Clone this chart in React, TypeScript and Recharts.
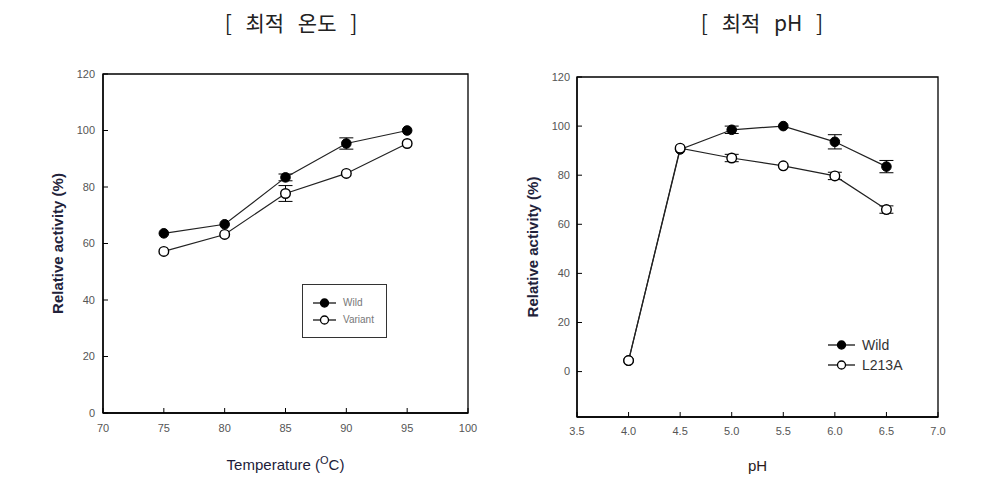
import React from 'react';
import { LineChart, Line, XAxis, YAxis, ReferenceArea, ErrorBar, Legend, Label } from 'recharts';

// ---- Data: optimal temperature ----
const tempCategories = [75, 80, 85, 90, 95];
const wildTemp = [63.6, 66.8, 83.4, 95.4, 100];
const wildTempErr = [0, 0, 1.2, 2.0, 0];
const variantTemp = [57.2, 63.2, 77.7, 84.8, 95.4];
const variantTempErr = [0, 0, 2.8, 0, 0];
const tempTicks = [70, 75, 80, 85, 90, 95, 100];
const activityTicks = [0, 20, 40, 60, 80, 100, 120];
const tempSeriesNames = ['Wild', 'Variant'];

// ---- Data: optimal pH ----
const phCategories = [4.0, 4.5, 5.0, 5.5, 6.0, 6.5];
const wildPh = [4.5, 90.5, 98.5, 100, 93.6, 83.5];
const wildPhErr = [0, 0, 1.5, 0, 2.9, 2.5];
const l213aPh = [4.5, 91, 87, 83.8, 79.7, 66];
const l213aPhErr = [0, 0, 1.5, 0, 1.5, 1.5];
const phTicks = [3.5, 4.0, 4.5, 5.0, 5.5, 6.0, 6.5, 7.0];
const phSeriesNames = ['Wild', 'L213A'];

const tempData = tempCategories.map((t, i) => ({
  t,
  wild: wildTemp[i],
  wildErr: wildTempErr[i],
  variant: variantTemp[i],
  variantErr: variantTempErr[i],
}));

const phData = phCategories.map((p, i) => ({
  p,
  wild: wildPh[i],
  wildErr: wildPhErr[i],
  l213a: l213aPh[i],
  l213aErr: l213aPhErr[i],
}));

const FONT = '"Liberation Sans", Arial, sans-serif';
const tickStyle = { fill: '#555', fontSize: 11, fontFamily: FONT };
const filledDot = { r: 4.8, fill: '#000', stroke: '#000', strokeWidth: 1 };
const openDot = { r: 4.8, fill: '#fff', stroke: '#000', strokeWidth: 1.4 };

const YLabel = (props: any) => {
  const vb = props.viewBox || {};
  const cx = vb.x + props.dx;
  const cy = vb.y + vb.height / 2;
  return (
    <text
      x={cx}
      y={cy}
      transform={`rotate(-90 ${cx} ${cy})`}
      textAnchor="middle"
      dominantBaseline="central"
      fontFamily={FONT}
      fontSize={15}
      fontWeight="bold"
      fill="#22223a"
    >
      Relative activity (%)
    </text>
  );
};

const TempXLabel = (props: any) => {
  const vb = props.viewBox || {};
  const cx = vb.x + vb.width / 2;
  const cy = vb.y + props.dy;
  return (
    <text x={cx} y={cy} textAnchor="middle" fontFamily={FONT} fontSize={15} fill="#1c1c3a">
      Temperature (
      <tspan fontSize={11} dy={-6}>O</tspan>
      <tspan dy={6}>C)</tspan>
    </text>
  );
};

const PhXLabel = (props: any) => {
  const vb = props.viewBox || {};
  const cx = vb.x + vb.width / 2;
  const cy = vb.y + props.dy;
  return (
    <text x={cx} y={cy} textAnchor="middle" fontFamily={FONT} fontSize={15} fill="#2a1a1a">
      pH
    </text>
  );
};

const LegendBody = ({ payload, boxed, order }: any) => {
  const items = ((payload || []) as any[])
    .slice()
    .sort((a, b) => order.indexOf(a.value) - order.indexOf(b.value));
  const fontSize = boxed ? 10 : 14;
  const rowH = boxed ? 17 : 20;
  return (
    <div
      style={{
        border: boxed ? '1.5px solid #333' : 'none',
        padding: boxed ? '9px 8px 9px 9px' : 0,
        width: boxed ? 66 : 'auto',
        background: boxed ? '#fff' : 'transparent',
        fontFamily: FONT,
      }}
    >
      {items.map((it, i) => {
        const dot = it.payload && it.payload.dot;
        const fill = dot && dot.fill ? dot.fill : '#000';
        return (
          <div key={i} style={{ display: 'flex', alignItems: 'center', height: rowH }}>
            <svg width={boxed ? 26 : 30} height={12} style={{ display: 'block' }}>
              <line x1={1} y1={6} x2={boxed ? 24 : 28} y2={6} stroke="#000" strokeWidth={1.2} />
              <circle cx={boxed ? 12.5 : 14.5} cy={6} r={4} fill={fill} stroke="#000" strokeWidth={1.3} />
            </svg>
            <span style={{ fontSize, color: boxed ? '#777' : '#333', marginLeft: 5 }}>{it.value}</span>
          </div>
        );
      })}
    </div>
  );
};

const titleStyle: React.CSSProperties = {
  position: 'absolute',
  top: 8,
  width: 240,
  textAlign: 'center',
  fontFamily: '"Noto Sans CJK KR", sans-serif',
  fontSize: 21,
  whiteSpace: 'pre',
  wordSpacing: 9,
  color: '#222',
  lineHeight: '28px',
};

export default function App() {
  return (
    <div
      style={{
        position: 'absolute',
        left: 0,
        top: 0,
        width: 985,
        height: 488,
        background: '#fff',
        overflow: 'hidden',
      }}
    >
      <div style={{ ...titleStyle, left: 171 }}>{'[ 최적 온도 ]'}</div>
      <div style={{ ...titleStyle, left: 642 }}>{'[ 최적 pH ]'}</div>

      <div style={{ position: 'absolute', left: 0, top: 0 }}>
        <LineChart
          width={490}
          height={488}
          data={tempData}
          margin={{ top: 74, right: 22, bottom: 45, left: 63 }}
        >
          <ReferenceArea x1={70} x2={100} y1={0} y2={120} fill="none" stroke="#000" strokeWidth={1.3} />
          <XAxis
            dataKey="t"
            type="number"
            domain={[70, 100]}
            ticks={tempTicks}
            height={30}
            tickSize={-5}
            tickMargin={16}
            axisLine={{ stroke: '#000', strokeWidth: 1.3 }}
            tickLine={{ stroke: '#000' }}
            tick={tickStyle}
          >
            <Label content={<TempXLabel dy={57} />} />
          </XAxis>
          <YAxis
            type="number"
            domain={[0, 120]}
            ticks={activityTicks}
            width={40}
            tickSize={-5}
            tickMargin={13}
            axisLine={{ stroke: '#000', strokeWidth: 1.3 }}
            tickLine={{ stroke: '#000' }}
            tick={tickStyle}
          >
            <Label content={<YLabel dx={-6} />} />
          </YAxis>
          <Legend
            layout="horizontal"
            verticalAlign="middle"
            align="center"
            wrapperStyle={{ left: 302, top: 284, width: 'auto' }}
            content={(p: any) => <LegendBody {...p} boxed order={tempSeriesNames} />}
          />
          <Line
            name={tempSeriesNames[0]}
            dataKey="wild"
            stroke="#222"
            strokeWidth={1.2}
            dot={filledDot}
            activeDot={false}
            isAnimationActive={false}
          >
            <ErrorBar dataKey="wildErr" width={7} stroke="#000" strokeWidth={1} direction="y" />
          </Line>
          <Line
            name={tempSeriesNames[1]}
            dataKey="variant"
            stroke="#222"
            strokeWidth={1.2}
            dot={openDot}
            activeDot={false}
            isAnimationActive={false}
          >
            <ErrorBar dataKey="variantErr" width={7} stroke="#000" strokeWidth={1} direction="y" />
          </Line>
        </LineChart>
      </div>

      <div style={{ position: 'absolute', left: 490, top: 0 }}>
        <LineChart
          width={495}
          height={488}
          data={phData}
          margin={{ top: 77, right: 47, bottom: 41, left: 47 }}
        >
          <ReferenceArea x1={3.5} x2={7} y1={-18.5} y2={120} fill="none" stroke="#000" strokeWidth={1.3} />
          <XAxis
            dataKey="p"
            type="number"
            domain={[3.5, 7]}
            ticks={phTicks}
            height={30}
            tickSize={-5}
            tickMargin={15}
            tickFormatter={(v: number) => v.toFixed(1)}
            axisLine={{ stroke: '#000', strokeWidth: 1.3 }}
            tickLine={{ stroke: '#000' }}
            tick={tickStyle}
          >
            <Label content={<PhXLabel dy={54} />} />
          </XAxis>
          <YAxis
            type="number"
            domain={[-18.5, 120]}
            ticks={activityTicks}
            width={40}
            tickSize={-5}
            tickMargin={12}
            allowDataOverflow
            axisLine={{ stroke: '#000', strokeWidth: 1.3 }}
            tickLine={{ stroke: '#000' }}
            tick={tickStyle}
          >
            <Label content={<YLabel dx={-5} />} />
          </YAxis>
          <Legend
            layout="horizontal"
            verticalAlign="middle"
            align="center"
            wrapperStyle={{ left: 337, top: 335, width: 'auto' }}
            content={(p: any) => <LegendBody {...p} boxed={false} order={phSeriesNames} />}
          />
          <Line
            name={phSeriesNames[0]}
            dataKey="wild"
            stroke="#222"
            strokeWidth={1.2}
            dot={filledDot}
            activeDot={false}
            isAnimationActive={false}
          >
            <ErrorBar dataKey="wildErr" width={7} stroke="#000" strokeWidth={1} direction="y" />
          </Line>
          <Line
            name={phSeriesNames[1]}
            dataKey="l213a"
            stroke="#222"
            strokeWidth={1.2}
            dot={openDot}
            activeDot={false}
            isAnimationActive={false}
          >
            <ErrorBar dataKey="l213aErr" width={7} stroke="#000" strokeWidth={1} direction="y" />
          </Line>
        </LineChart>
      </div>
    </div>
  );
}
